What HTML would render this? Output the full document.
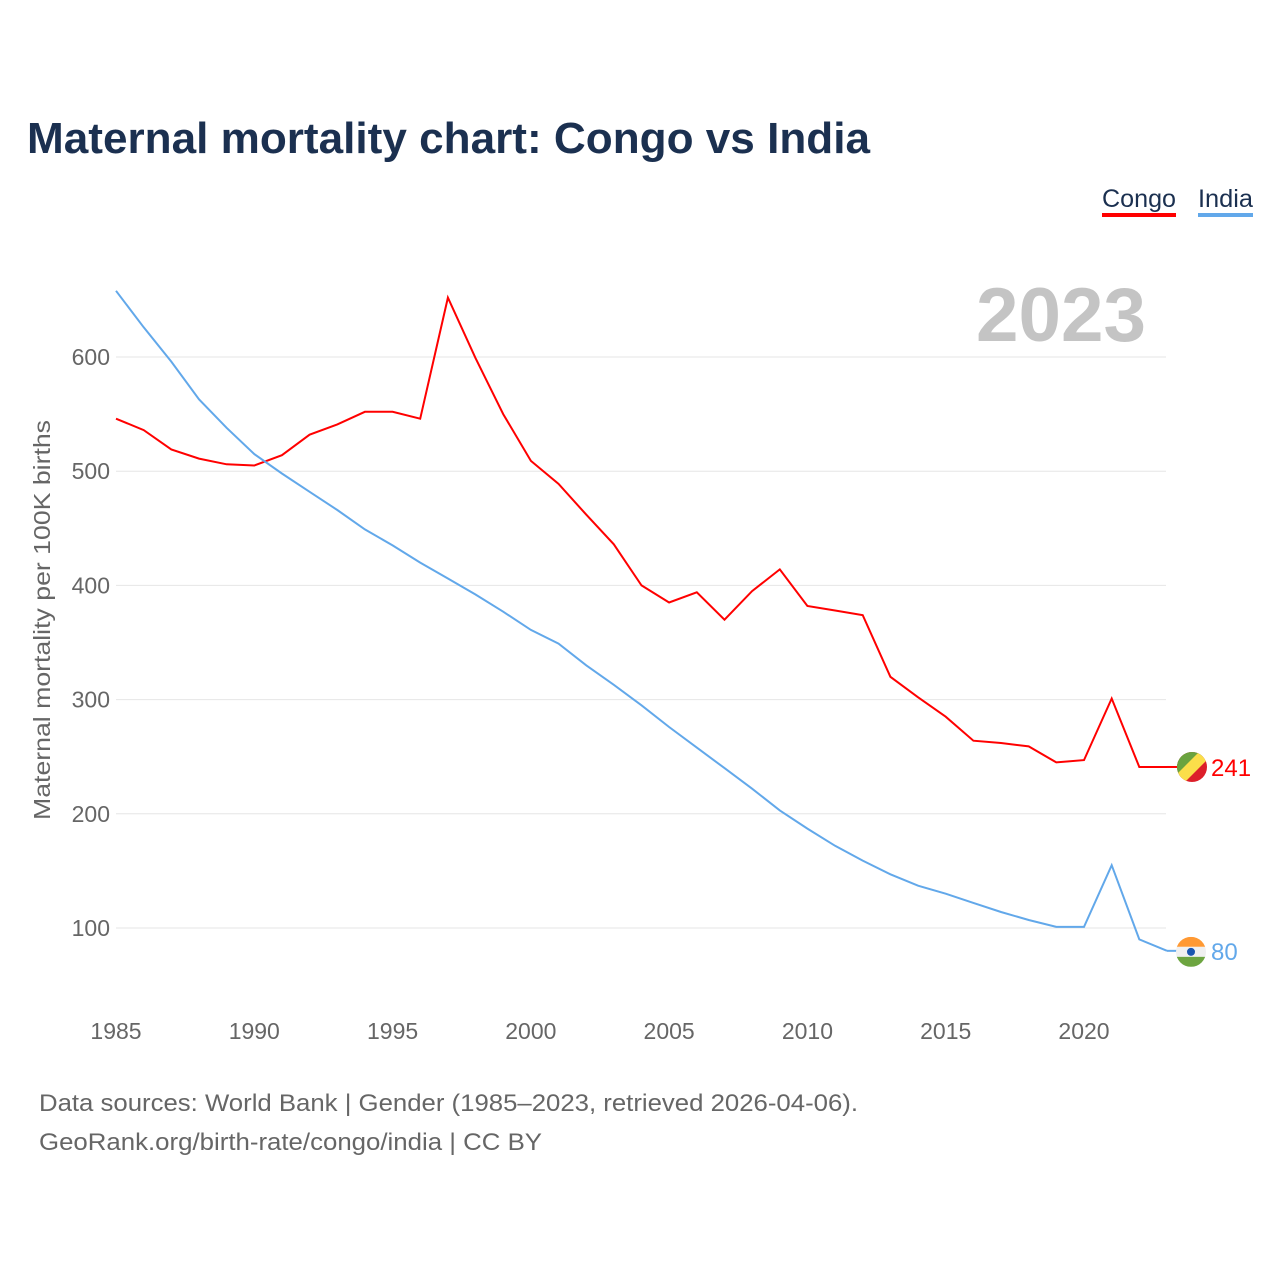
<!DOCTYPE html>
<html><head><meta charset="utf-8"><style>
html,body{margin:0;padding:0;background:#fff}
svg{display:block;font-family:"Liberation Sans",sans-serif}
</style></head><body>
<svg id="chart" width="1280" height="1280" viewBox="0 0 1280 1280">
<text x="27" y="153" font-size="44" font-weight="bold" fill="#1b3050" textLength="843" lengthAdjust="spacingAndGlyphs">Maternal mortality chart: Congo vs India</text>
<g><text x="1102" y="207" font-size="25" fill="#1b3050" textLength="74" lengthAdjust="spacingAndGlyphs">Congo</text><rect x="1102" y="213" width="74" height="4" fill="#ff0000"/></g>
<g><text x="1198" y="207" font-size="25" fill="#1b3050" textLength="55" lengthAdjust="spacingAndGlyphs">India</text><rect x="1198" y="213" width="55" height="4" fill="#62a8ea"/></g>
<text x="1146" y="341" font-size="76" font-weight="bold" fill="#c4c4c4" text-anchor="end" textLength="170" lengthAdjust="spacingAndGlyphs">2023</text>
<g id="grid"></g><g id="axes"></g><g id="series"></g>
<text transform="translate(50,620) rotate(-90)" font-size="23" fill="#666" text-anchor="middle" textLength="400" lengthAdjust="spacingAndGlyphs">Maternal mortality per 100K births</text>
<text x="39" y="1111" font-size="24" fill="#666" textLength="819" lengthAdjust="spacingAndGlyphs">Data sources: World Bank | Gender (1985–2023, retrieved 2026-04-06).</text>
<text x="39" y="1150" font-size="24" fill="#666" textLength="503" lengthAdjust="spacingAndGlyphs">GeoRank.org/birth-rate/congo/india | CC BY</text>
</svg>
<script>
const years=[];for(let y=1985;y<=2023;y++)years.push(y);
const congo=[546,536,519,511,506,505,514,532,541,552,552,546,652,599,550,509,489,462,436,400,385,394,370,395,414,382,378,374,320,302,285,264,262,259,245,247,301,241,241];
const india=[658,626,596,563,538,515,498,482,466,449,435,420,406,392,377,361,349,330,313,295,276,258,240,222,203,187,172,159,147,137,130,122,114,107,101,101,155,90,80];
const yTicks=[100,200,300,400,500,600];
const xTicks=[1985,1990,1995,2000,2005,2010,2015,2020];
const NS="http://www.w3.org/2000/svg";
const X=y=>116+(y-1985)*(968/35);
const Y=v=>928-(v-100)*1.142;
function mk(tag,attrs,parent,txt){const e=document.createElementNS(NS,tag);for(const k in attrs)e.setAttribute(k,attrs[k]);if(txt!==undefined)e.textContent=txt;parent.appendChild(e);return e;}
const grid=document.getElementById('grid'),axes=document.getElementById('axes'),ser=document.getElementById('series');
yTicks.forEach(v=>{
 const l=mk('line',{x1:116,x2:1166,y1:Y(v),y2:Y(v),stroke:'#e6e6e6','stroke-width':1},grid);
 
 
 const t=mk('text',{x:110,y:Y(v)+8,'font-size':23,fill:'#666','text-anchor':'end'},axes,String(v));
 
 
});
xTicks.forEach(v=>{
 const t=mk('text',{x:X(v),y:1039,'font-size':23,fill:'#666','text-anchor':'middle'},axes,String(v));
 
 
});
function line(data,color,name){
 const d=data.map((v,i)=>(i?'L':'M')+X(years[i]).toFixed(1)+','+Y(v).toFixed(1)).join('');
 const p=mk('path',{d:d,fill:'none',stroke:color,'stroke-width':2},ser);
 
 
 const lx=X(2023),ly=Y(data[data.length-1]);
 mk('line',{x1:lx,x2:1178,y1:ly,y2:ly,stroke:color,'stroke-width':2},ser);
 return ly;
}
const cy=line(congo,'#ff0000','congo');
const iy=line(india,'#62a8ea','india');
const cg=mk('g',{},ser);


const ccp=mk('clipPath',{id:'cc'},cg);mk('circle',{cx:1192,cy:cy,r:15},ccp);
const cgi=mk('g',{'clip-path':'url(#cc)'},cg);
mk('rect',{x:1177,y:cy-15,width:30,height:30,fill:'#dc1f2a'},cgi);
mk('polygon',{points:`1177,${cy+15} 1177,${cy-15} 1207,${cy-15}`,fill:'#6aa33f'},cgi);
mk('polygon',{points:`1177,${cy+7} 1199,${cy-15} 1207,${cy-15} 1207,${cy-7} 1185,${cy+15} 1177,${cy+15}`,fill:'#fbde4a'},cgi);
const ct=mk('text',{x:1211,y:cy+9,'font-size':24,fill:'#ff0000'},ser,String(congo[congo.length-1]));


const ig=mk('g',{},ser);


const icp=mk('clipPath',{id:'ic'},ig);mk('circle',{cx:1191,cy:iy+1,r:15},icp);
const igi=mk('g',{'clip-path':'url(#ic)'},ig);
mk('rect',{x:1176,y:iy-14,width:30,height:10,fill:'#ff9933'},igi);
mk('rect',{x:1176,y:iy-4,width:30,height:10,fill:'#f0f0f0'},igi);
mk('rect',{x:1176,y:iy+6,width:30,height:10,fill:'#6da540'},igi);
mk('circle',{cx:1191,cy:iy+1,r:4,fill:'#1a56b0'},igi);
const it=mk('text',{x:1211,y:iy+9,'font-size':24,fill:'#62a8ea'},ser,String(india[india.length-1]));


</script>
</body></html>
